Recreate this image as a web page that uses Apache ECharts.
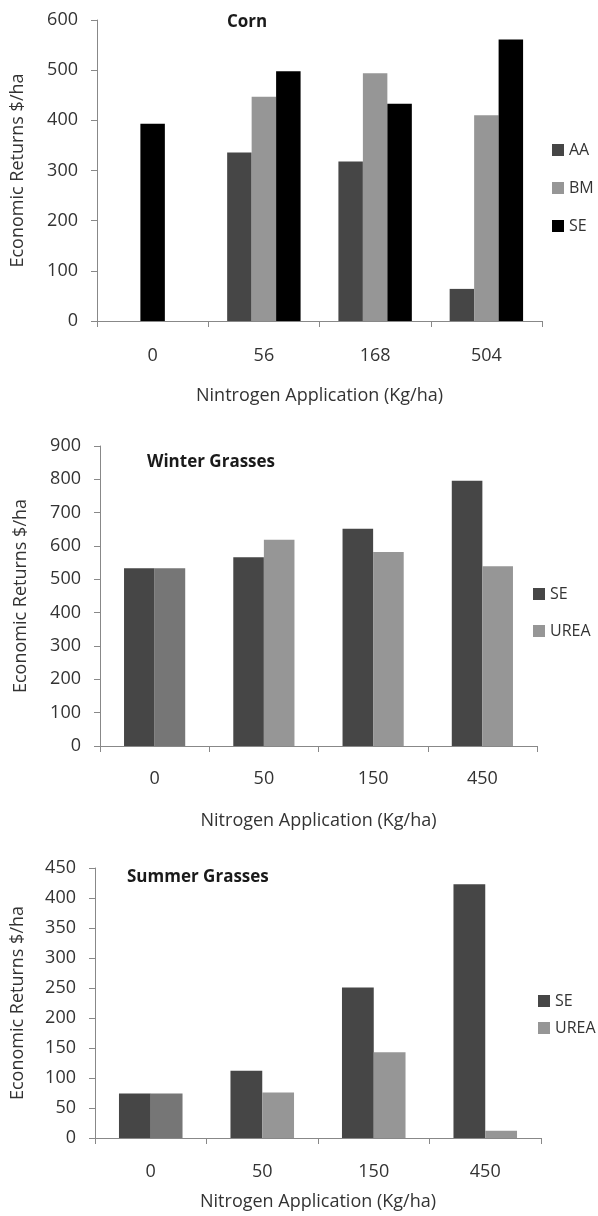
<!DOCTYPE html>
<html>
<head>
<meta charset="utf-8">
<script src="https://cdn.jsdelivr.net/npm/echarts@6/dist/echarts.min.js"></script>
<style>
  html, body { margin: 0; padding: 0; background: #fff; }
  #wrap { position: relative; width: 598px; height: 1216px; }
  .panel { position: absolute; left: 0; width: 598px; }
</style>
</head>
<body>
<div id="wrap">
  <div id="corn" class="panel" style="top:0;height:410px"></div>
  <div id="winter" class="panel" style="top:410px;height:425px"></div>
  <div id="summer" class="panel" style="top:835px;height:381px"></div>
</div>
<script>
// Economic returns ($/ha) by nitrogen application rate

// Corn
const cornRates = ['0', '56', '168', '504'];
const cornControl = [393, null, null, null];   // unfertilized check, drawn in the centre slot
const cornAA = [null, 336, 318, 64];
const cornBM = [null, 447, 494, 410];
const cornSE = [null, 498, 433, 561];
const cornTicks = [0, 100, 200, 300, 400, 500, 600];

// Winter grasses
const winterRates = ['0', '50', '150', '450'];
const winterSE = [533, 566, 652, 796];
const winterUREA = [533, 619, 582, 539];
const winterTicks = [0, 100, 200, 300, 400, 500, 600, 700, 800, 900];

// Summer grasses
const summerRates = ['0', '50', '150', '450'];
const summerSE = [74, 112, 251, 423];
const summerUREA = [74, 76, 143, 12];
const summerTicks = [0, 50, 100, 150, 200, 250, 300, 350, 400, 450];

const FONT = '"Open Sans", "Noto Sans", sans-serif';
const TEXT = '#333333';
const AXIS = '#888888';
const DARK = '#464646';
const LIGHT = '#969696';
const MID = '#767676';
const BLACK = '#000000';

function panel(el, cfg) {
  const chart = echarts.init(document.getElementById(el), null, { renderer: 'canvas' });
  const ticks = cfg.ticks;
  chart.setOption({
    animation: false,
    backgroundColor: '#ffffff',
    textStyle: { fontFamily: FONT },
    graphic: [{
      type: 'text',
      left: cfg.titleX, top: cfg.titleY,
      style: {
        text: cfg.title, fontFamily: FONT, fontSize: cfg.titleSize, fontWeight: 'bold',
        fill: '#1a1a1a'
      }
    }],
    legend: {
      orient: 'vertical',
      left: cfg.legendLeft, top: cfg.legendTop,
      itemWidth: 12, itemHeight: 12, itemGap: cfg.legendGap,
      icon: 'rect',
      textStyle: { fontFamily: FONT, fontSize: 16, color: TEXT, lineHeight: 20 },
      data: cfg.series.map(s => s.name)
    },
    grid: { left: cfg.grid[0], top: cfg.grid[1], width: cfg.grid[2], height: cfg.grid[3] },
    xAxis: {
      type: 'category',
      data: cfg.categories,
      name: cfg.xName,
      nameLocation: 'middle',
      nameGap: cfg.xNameGap,
      nameTextStyle: { fontFamily: FONT, fontSize: 18, color: TEXT, lineHeight: 18 },
      axisLine: { lineStyle: { color: AXIS, width: 1 } },
      axisTick: { show: true, length: 6, alignWithLabel: false, lineStyle: { color: AXIS } },
      axisLabel: { fontFamily: FONT, fontSize: 18, color: TEXT, margin: cfg.xLabelMargin, lineHeight: 18 },
      splitLine: { show: false }
    },
    yAxis: {
      type: 'value',
      min: ticks[0], max: ticks[ticks.length - 1], interval: ticks[1] - ticks[0],
      name: 'Economic Returns $/ha',
      nameLocation: 'middle',
      nameRotate: 90,
      nameGap: cfg.yNameGap,
      nameTextStyle: { fontFamily: FONT, fontSize: 18, color: TEXT, lineHeight: 18 },
      axisLine: { show: true, lineStyle: { color: AXIS, width: 1 } },
      axisTick: { show: true, length: 6, lineStyle: { color: AXIS } },
      axisLabel: { fontFamily: FONT, fontSize: 18, color: TEXT, margin: 19 },
      splitLine: { show: false }
    },
    series: cfg.series.map(s => ({
      type: 'bar',
      name: s.name,
      data: s.data,
      itemStyle: { color: s.color },
      barGap: '0%',
      barCategoryGap: cfg.catGap,
      emphasis: { disabled: true }
    }))
  });
}

// Corn: the check plot value sits in the middle slot of the first group, in black
const cornMiddle = cornBM.map((v, i) =>
  cornControl[i] != null ? { value: cornControl[i], itemStyle: { color: BLACK } } : v);

panel('corn', {
  title: 'Corn', titleX: 227, titleY: 14, titleSize: 17,
  ticks: cornTicks,
  categories: cornRates,
  xName: 'Nintrogen Application (Kg/ha)',
  grid: [97, 20, 445, 305],
  catGap: '34%',
  xLabelMargin: 26, xNameGap: 66, yNameGap: 70,
  legendLeft: 547, legendTop: 135, legendGap: 18,
  series: [
    { name: 'AA', data: cornAA, color: DARK },
    { name: 'BM', data: cornMiddle, color: LIGHT },
    { name: 'SE', data: cornSE, color: BLACK }
  ]
});

// Grasses: the zero-rate UREA bar is shaded a step darker
const shadeZero = arr => arr.map((v, i) =>
  i === 0 ? { value: v, itemStyle: { color: MID } } : v);

panel('winter', {
  title: 'Winter Grasses', titleX: 147, titleY: 44, titleSize: 17,
  ticks: winterTicks,
  categories: winterRates,
  xName: 'Nitrogen Application (Kg/ha)',
  grid: [100, 36, 437, 302.5],
  catGap: '44%',
  xLabelMargin: 24, xNameGap: 66, yNameGap: 70,
  legendLeft: 528, legendTop: 169, legendGap: 17,
  series: [
    { name: 'SE', data: winterSE, color: DARK },
    { name: 'UREA', data: shadeZero(winterUREA), color: LIGHT }
  ]
});

panel('summer', {
  title: 'Summer Grasses', titleX: 127, titleY: 34, titleSize: 17,
  ticks: summerTicks,
  categories: summerRates,
  xName: 'Nitrogen Application (Kg/ha)',
  grid: [95, 33, 446, 273],
  catGap: '43%',
  xLabelMargin: 25, xNameGap: 55, yNameGap: 68,
  legendLeft: 533, legendTop: 151, legendGap: 7,
  series: [
    { name: 'SE', data: summerSE, color: DARK },
    { name: 'UREA', data: shadeZero(summerUREA), color: LIGHT }
  ]
});
</script>
</body>
</html>
